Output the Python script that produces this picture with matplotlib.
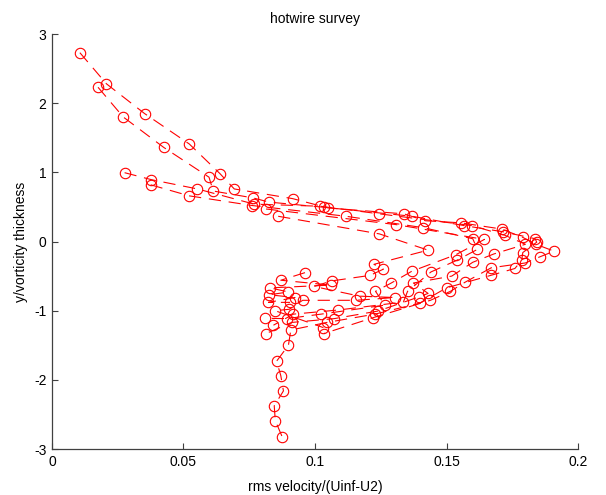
"""
hotwire survey - rms profili kroz smicajni sloj
"""

import matplotlib.pyplot as plt

# -------------------------------
# PODACI (po profilu: rms brzina i y/debljina vrtloznosti)
# -------------------------------

rms_1 = [0.0106, 0.0207, 0.0352, 0.0522, 0.0639, 0.0693, 0.0915, 0.105, 0.1338, 0.142,
         0.1555, 0.171, 0.179, 0.184, 0.1909, 0.1856, 0.180, 0.167, 0.157, 0.1515,
         0.1439, 0.1222, 0.1034]
y_1 = [2.73, 2.28, 1.85, 1.41, 0.98, 0.76, 0.62, 0.485, 0.40, 0.30,
       0.27, 0.18, 0.06, -0.04, -0.14, -0.22, -0.31, -0.38, -0.59, -0.72,
       -0.85, -1.10, -1.33]

rms_2 = [0.0175, 0.0271, 0.0425, 0.0597, 0.0613, 0.0765, 0.0825, 0.1034, 0.1369, 0.1567,
         0.1716, 0.1837, 0.1843, 0.179, 0.1786, 0.176, 0.1668, 0.150, 0.1399, 0.1228,
         0.1045, 0.0908, 0.0899, 0.0854, 0.0870, 0.0880, 0.0845, 0.0849, 0.0876]
y_2 = [2.23, 1.80, 1.36, 0.93, 0.73, 0.63, 0.57, 0.495, 0.365, 0.23,
       0.14, 0.04, -0.01, -0.16, -0.27, -0.39, -0.49, -0.67, -0.89, -1.05,
       -1.17, -1.28, -1.50, -1.73, -1.94, -2.16, -2.375, -2.59, -2.83]

rms_3 = [0.0276, 0.0378, 0.0553, 0.0769, 0.102, 0.1245, 0.1596, 0.1722, 0.180, 0.168,
         0.160, 0.152, 0.1374, 0.143, 0.1396, 0.124, 0.1073, 0.0911, 0.0814]
y_3 = [0.995, 0.894, 0.76, 0.54, 0.51, 0.40, 0.23, 0.09, -0.04, -0.18,
       -0.30, -0.50, -0.60, -0.75, -0.80, -1.005, -1.115, -1.17, -1.33]

rms_4 = [0.0375, 0.0522, 0.0762, 0.1118, 0.1412, 0.160, 0.1617, 0.154, 0.1441, 0.1352,
         0.1336, 0.1089, 0.0918, 0.0842]
y_4 = [0.82, 0.66, 0.52, 0.365, 0.20, 0.04, -0.115, -0.27, -0.44, -0.72,
       -0.875, -0.99, -1.05, -1.21]

rms_5 = [0.0814, 0.1307, 0.1644, 0.1536, 0.1368, 0.129, 0.1230, 0.1266, 0.1023, 0.0892,
         0.0810]
y_5 = [0.47, 0.245, 0.03, -0.19, -0.43, -0.60, -0.72, -0.92, -1.05, -1.115,
       -1.11]

rms_6 = [0.0860, 0.1245, 0.143, 0.1224, 0.126, 0.1209, 0.1063, 0.0996, 0.117, 0.1304,
         0.1156, 0.0953, 0.0902, 0.0848, 0.1032]
y_6 = [0.365, 0.11, -0.125, -0.33, -0.40, -0.49, -0.57, -0.65, -0.79, -0.81,
       -0.85, -0.85, -0.98, -1.00, -1.245]

rms_7 = [0.0962, 0.0870, 0.106, 0.0829, 0.0899, 0.0826, 0.0924, 0.0823, 0.0905]
y_7 = [-0.45, -0.56, -0.63, -0.67, -0.73, -0.77, -0.81, -0.88, -0.88]

profiles = [(rms_1, y_1), (rms_2, y_2), (rms_3, y_3), (rms_4, y_4),
            (rms_5, y_5), (rms_6, y_6), (rms_7, y_7)]

X_TICKS = [0, 0.05, 0.1, 0.15, 0.2]
Y_TICKS = [-3, -2, -1, 0, 1, 2, 3]

# -------------------------------
# CRTANJE
# -------------------------------

plt.rcParams['font.family'] = ['Liberation Sans', 'DejaVu Sans']

fig = plt.figure(figsize=(6.06, 4.95), dpi=100)
ax = fig.add_axes([0.0858, 0.0929, 0.868, 0.8384])

for rms, y in profiles:
    ax.plot(rms, y, color='red', linewidth=0.8,
            linestyle=(0, (11, 7)), marker='o', markersize=7.5,
            markerfacecolor='none', markeredgecolor='red',
            markeredgewidth=0.8)

ax.set_xlim(0, 0.2)
ax.set_ylim(-3, 3)
ax.set_xticks(X_TICKS)
ax.set_xticklabels(['0', '0.05', '0.1', '0.15', '0.2'])
ax.set_yticks(Y_TICKS)
ax.set_yticklabels([str(t) for t in Y_TICKS])

ax.spines['top'].set_visible(False)
ax.spines['right'].set_visible(False)
for side in ('left', 'bottom'):
    ax.spines[side].set_color('#404040')
    ax.spines[side].set_linewidth(0.9)
ax.tick_params(direction='in', length=4, width=0.8, color='#404040',
               labelsize=10, labelcolor='black', pad=4)

ax.set_title('hotwire survey', fontsize=10, pad=8)
ax.set_xlabel('rms velocity/(Uinf-U2)', fontsize=10, labelpad=8)
ax.set_ylabel('y/vorticity thickness', fontsize=10, labelpad=4)

plt.savefig('out.png', dpi=100)
plt.close()
